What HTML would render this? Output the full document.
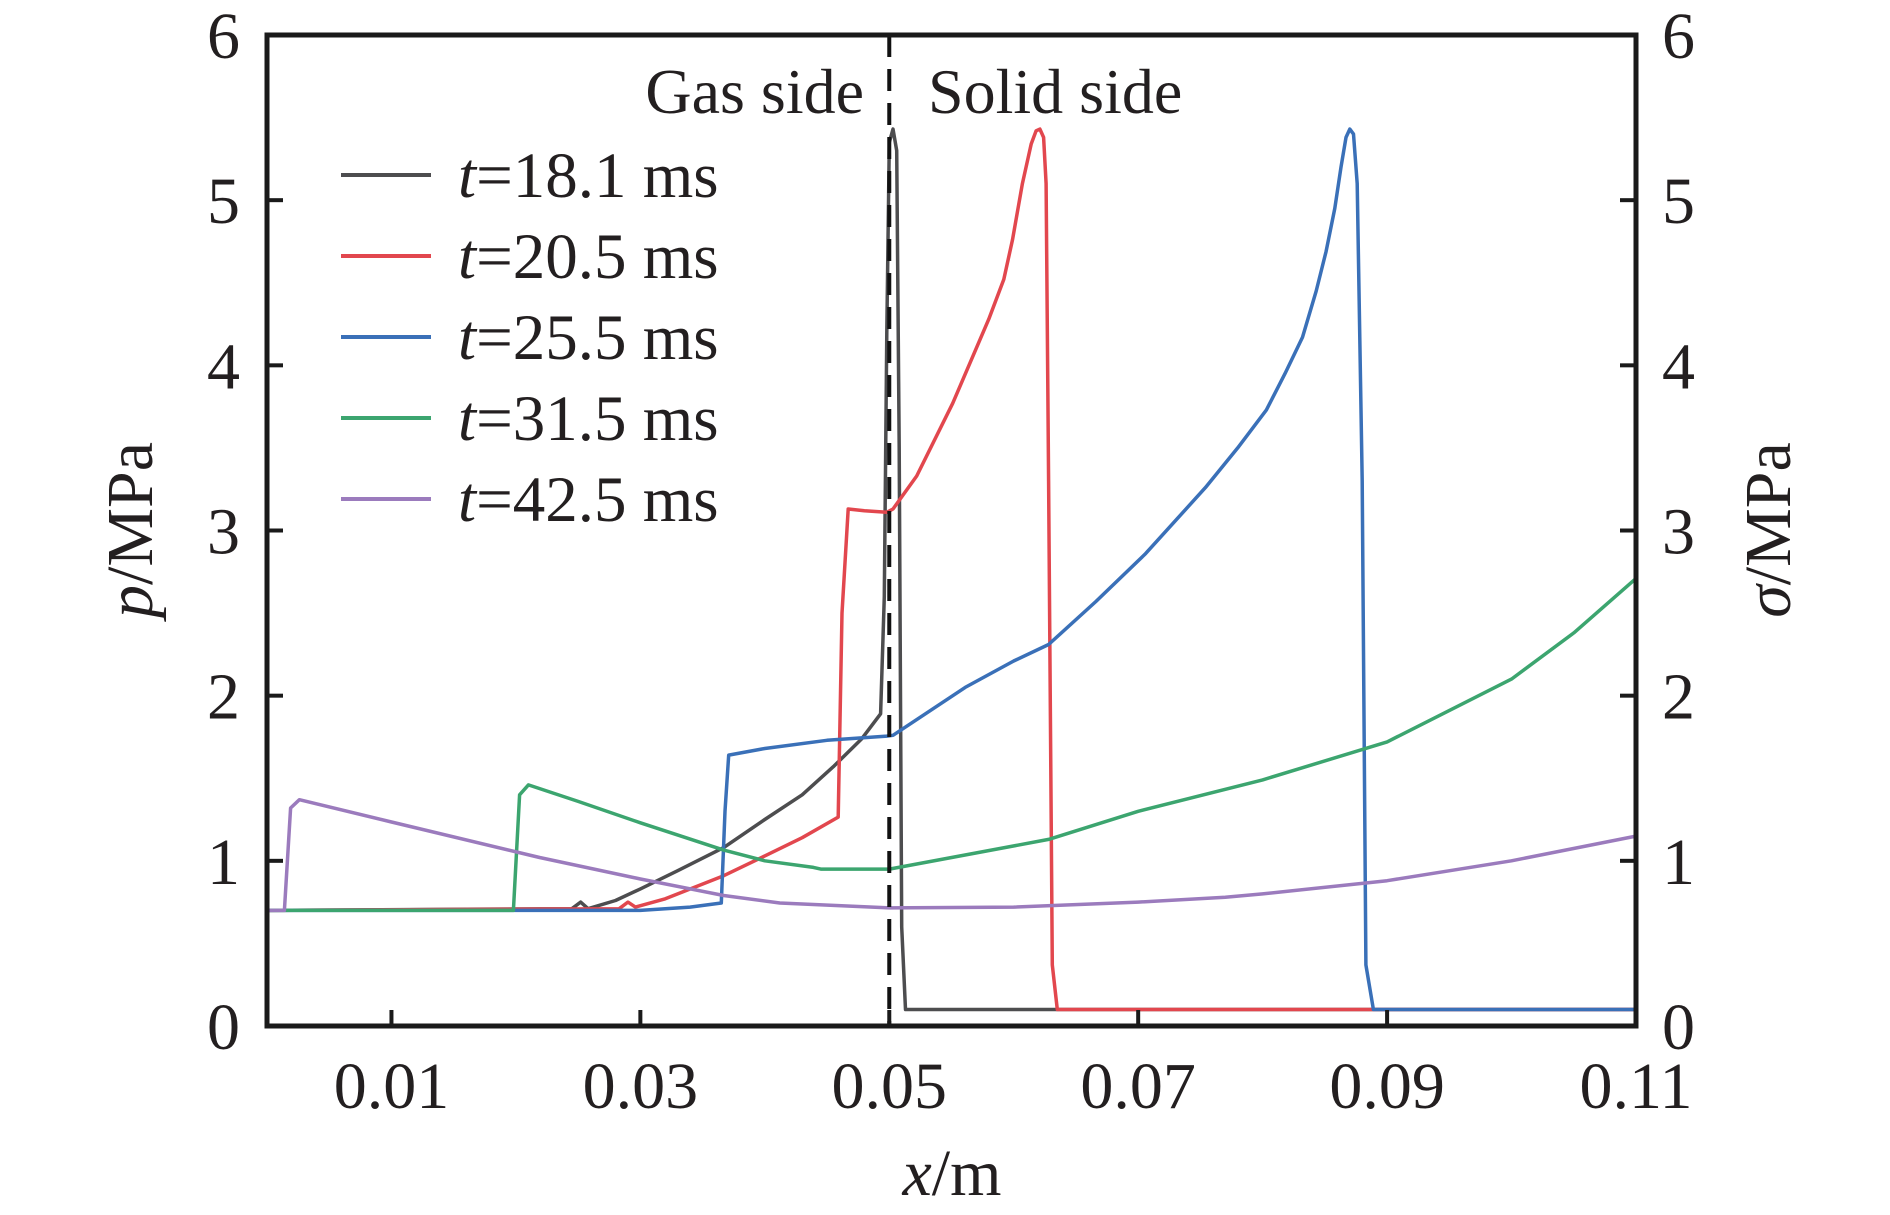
<!DOCTYPE html>
<html><head><meta charset="utf-8"><style>
html,body{margin:0;padding:0;background:#fff;}
svg{display:block;}
text{font-family:"Liberation Serif",serif;fill:#231f20;}
</style></head><body>
<svg id="chart" width="1890" height="1215" viewBox="0 0 1890 1215" xmlns="http://www.w3.org/2000/svg">
<g id="series"></g>
<g id="axes"></g>
</svg>
<script>
const xTicks = [0.01, 0.03, 0.05, 0.07, 0.09, 0.11];
const xTickLabels = ["0.01","0.03","0.05","0.07","0.09","0.11"];
const yTicks = [0,1,2,3,4,5,6];
const yTickLabels = ["0","1","2","3","4","5","6"];
const seriesNames = ["18.1","20.5","25.5","31.5","42.5"];
const seriesColors = ["#4d4d4f","#e2474e","#3a70b8","#3ca56f","#9b7bbd"];

const s1x = [0,0.0245,0.0252,0.0258,0.028,0.030,0.033,0.0367,0.040,0.0430,0.0455,0.0478,0.0493,0.0496,0.0498,0.0500,0.0503,0.0506,0.0508,0.0510,0.0513,0.11];
const s1y = [0.70,0.71,0.75,0.71,0.76,0.83,0.94,1.08,1.25,1.40,1.57,1.74,1.89,2.6,4.2,5.35,5.43,5.3,3.5,0.6,0.10,0.10];
const s2x = [0,0.0283,0.0290,0.0296,0.032,0.0367,0.040,0.043,0.0459,0.0462,0.0467,0.048,0.0498,0.0503,0.0522,0.0551,0.058,0.0592,0.0599,0.0607,0.0614,0.0618,0.0621,0.0624,0.0626,0.0628,0.0631,0.0635,0.11];
const s2y = [0.70,0.71,0.75,0.72,0.77,0.91,1.03,1.14,1.265,2.5,3.13,3.12,3.11,3.13,3.33,3.77,4.28,4.52,4.76,5.1,5.34,5.42,5.43,5.38,5.1,3.3,0.37,0.10,0.10];
const s3x = [0,0.030,0.034,0.0365,0.0368,0.0371,0.040,0.045,0.0498,0.0503,0.0561,0.0600,0.0628,0.0666,0.0706,0.0754,0.0780,0.0803,0.0818,0.0832,0.0843,0.0851,0.0858,0.0863,0.0867,0.0870,0.0873,0.0876,0.0880,0.0883,0.0889,0.11];
const s3y = [0.70,0.70,0.72,0.745,1.3,1.64,1.68,1.73,1.755,1.76,2.05,2.21,2.31,2.57,2.86,3.26,3.5,3.73,3.95,4.17,4.45,4.69,4.95,5.2,5.38,5.43,5.4,5.1,3.3,0.37,0.10,0.10];
const s4x = [0,0.0198,0.0203,0.0210,0.025,0.030,0.0367,0.040,0.0439,0.0445,0.050,0.0628,0.070,0.080,0.090,0.100,0.105,0.110];
const s4y = [0.70,0.70,1.40,1.46,1.36,1.23,1.065,1.00,0.96,0.95,0.95,1.13,1.30,1.49,1.72,2.10,2.38,2.71];
const s5x = [0,0.0014,0.0019,0.0026,0.010,0.0219,0.030,0.0367,0.0412,0.050,0.060,0.070,0.077,0.080,0.090,0.100,0.110];
const s5y = [0.70,0.70,1.32,1.37,1.235,1.02,0.89,0.79,0.745,0.715,0.72,0.75,0.78,0.80,0.88,1.00,1.15];
const allX = [s1x,s2x,s3x,s4x,s5x];
const allY = [s1y,s2y,s3y,s4y,s5y];

const L=267,R=1636,T=35,B=1026;
const xMin=0,xMax=0.11,yMin=0,yMax=6;
function sx(v){return L+(v-xMin)/(xMax-xMin)*(R-L);}
function sy(v){return B-(v-yMin)/(yMax-yMin)*(B-T);}
const NS="http://www.w3.org/2000/svg";
function mk(tag,attrs,parent){const e=document.createElementNS(NS,tag);for(const k in attrs)e.setAttribute(k,attrs[k]);parent.appendChild(e);return e;}
const sg=document.getElementById('series');
const ag=document.getElementById('axes');

allX.forEach((xs,i)=>{
  const d=xs.map((x,j)=>(j?'L':'M')+sx(x).toFixed(1)+','+sy(allY[i][j]).toFixed(1)).join(' ');
  const p=mk('path',{d:d,fill:'none',stroke:seriesColors[i],'stroke-width':3.5,'stroke-linejoin':'round'},sg);
  
  
});

const dl=mk('line',{x1:sx(0.05),x2:sx(0.05),y1:T,y2:B,stroke:'#111','stroke-width':4,'stroke-dasharray':'22,12'},ag);



const fr=mk('path',{d:`M${L},${T} H${R} V${B} H${L} Z`,fill:'none',stroke:'#1a1a1a','stroke-width':5},ag);



xTicks.forEach((v,i)=>{
  const t=mk('line',{x1:sx(v),x2:sx(v),y1:B,y2:B-16,stroke:'#1a1a1a','stroke-width':4},ag);
  
  
  const lb=mk('text',{x:sx(v),y:1108,'font-size':66,'text-anchor':'middle'},ag);
  lb.textContent=xTickLabels[i];
  
  
});
yTicks.forEach((v,i)=>{
  const t1=mk('line',{x1:L,x2:L+16,y1:sy(v),y2:sy(v),stroke:'#1a1a1a','stroke-width':4},ag);
  
  
  const t2=mk('line',{x1:R,x2:R-16,y1:sy(v),y2:sy(v),stroke:'#1a1a1a','stroke-width':4},ag);
  
  
  const l1=mk('text',{x:240,y:sy(v)+23,'font-size':66,'text-anchor':'end'},ag);
  l1.textContent=yTickLabels[i];
  
  
  const l2=mk('text',{x:1662,y:sy(v)+23,'font-size':66,'text-anchor':'start'},ag);
  l2.textContent=yTickLabels[i];
  
  
});

seriesNames.forEach((n,i)=>{
  const y=175+i*81;
  const ln=mk('line',{x1:341,x2:431,y1:y,y2:y,stroke:seriesColors[i],'stroke-width':4},ag);
  
  
  const tx=mk('text',{x:458,y:y+22,'font-size':65},ag);
  tx.innerHTML='<tspan font-style="italic">t</tspan>='+n+' ms';
  
  
});
</script>
<svg style="position:absolute;left:0;top:0" width="1890" height="1215">
<text x="864" y="113" font-size="64" text-anchor="end" style="font-family:'Liberation Serif',serif;fill:#231f20">Gas side</text>
<text x="928" y="113" font-size="64" style="font-family:'Liberation Serif',serif;fill:#231f20">Solid side</text>
<text transform="translate(152,530) rotate(-90)" font-size="66" text-anchor="middle" style="font-family:'Liberation Serif',serif;fill:#231f20"><tspan font-style="italic">p</tspan>/MPa</text>
<text transform="translate(1790,530) rotate(-90)" font-size="66" text-anchor="middle" style="font-family:'Liberation Serif',serif;fill:#231f20"><tspan font-style="italic">σ</tspan>/MPa</text>
<text x="952" y="1195" font-size="66" text-anchor="middle" style="font-family:'Liberation Serif',serif;fill:#231f20"><tspan font-style="italic">x</tspan>/m</text>
</svg>
</body></html>
